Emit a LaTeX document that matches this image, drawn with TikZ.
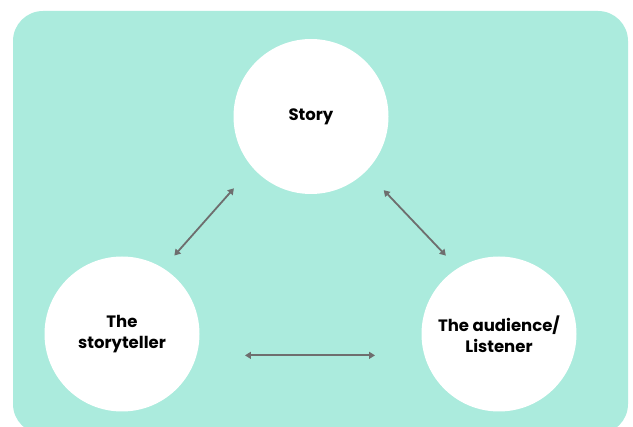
\documentclass[tikz,border=0pt]{standalone}
\usepackage{fontspec}
\setmainfont{Poppins}
\usepackage{xcolor}
\usetikzlibrary{arrows.meta}

\definecolor{MintBg}{HTML}{ABEBDD}
\definecolor{LinkGray}{HTML}{6E6E6E}

\tikzset{
  RoleCircle/.style = {circle, fill=white, draw=none, outer sep=0pt,
                       minimum size=155pt, align=center,
                       font=\fontsize{16.5}{21}\selectfont\bfseries},
  EdgeStyle/.style  = {LinkGray, line width=1.8pt,
                       {Triangle[length=6pt,width=7pt]}-{Triangle[length=6pt,width=7pt]}}
}

\begin{document}
\begin{tikzpicture}[x=1pt, y=1pt]
  \useasboundingbox (0,0) rectangle (633,-427);
  \begin{scope}
    \clip (0,0) rectangle (633,-427);
    \fill[MintBg, rounded corners=30pt] (13,-11) rectangle (628,-434);
  \end{scope}

% level 1

\node[RoleCircle] (story) at (311,-116.5) {Story};

% level 2

\node[RoleCircle] (teller)   at (122,-334) {The\\storyteller};
\node[RoleCircle] (listener) at (499,-334) {The audience/\\Listener};

% links

\draw[EdgeStyle, shorten <=17pt, shorten >=28pt] (teller.58) -- (story.221);
\draw[EdgeStyle, shorten <=26pt, shorten >=17.5pt] (story.315.8) -- (listener.122.4);
\draw[EdgeStyle, shorten <=48.5pt, shorten >=49.5pt] (teller.-16.9) -- (listener.196.9);

\end{tikzpicture}
\end{document}
